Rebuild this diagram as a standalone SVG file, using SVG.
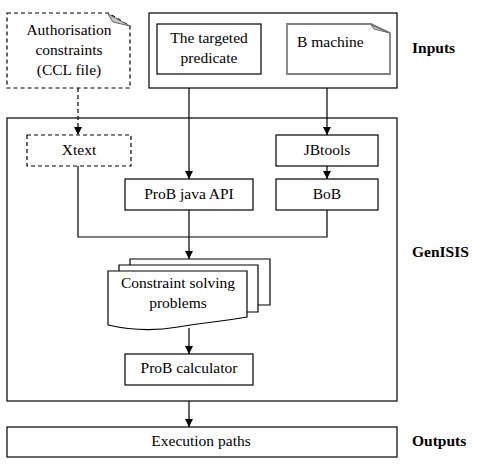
<svg xmlns="http://www.w3.org/2000/svg" width="479" height="469" viewBox="0 0 479 469">
<style>
.box{fill:#fff;stroke:#000;stroke-width:1.2}
.dash{fill:#fff;stroke:#000;stroke-width:1.2;stroke-dasharray:4,3}
.t{font-family:"Liberation Serif","Times New Roman",serif;font-size:15.5px;fill:#000;text-anchor:middle}
.b{font-family:"Liberation Serif","Times New Roman",serif;font-size:15.5px;font-weight:bold;fill:#000}
.ln{fill:none;stroke:#000;stroke-width:1.2}
.fold{fill:#c8c8c8;stroke:#666;stroke-width:1}
</style>
<defs>
<marker id="ah" markerUnits="userSpaceOnUse" markerWidth="9" markerHeight="9" refX="8" refY="4" orient="auto">
<path d="M0,0 L8,4 L0,8 z" fill="#000"/>
</marker>
</defs>
<rect width="479" height="469" fill="#fff"/>

<g id="genisis-frame">
<rect class="box" x="7" y="118" width="390" height="283"/>
<text class="b" x="412" y="257">GenISIS</text>
</g>

<g id="inputs">
<rect class="box" x="149" y="13" width="248" height="75"/>
<text class="b" x="412" y="53">Inputs</text>
</g>

<g id="auth">
<path class="dash" d="M7,13 H108 L130,26 V88 H7 Z"/>
<path class="fold" d="M108,14 L130,26 L113,22 Z"/>
<text class="t" x="69" y="35">Authorisation</text>
<text class="t" x="69" y="55">constraints</text>
<text class="t" x="69" y="75">(CCL file)</text>
</g>

<g id="predicate">
<rect class="box" x="157" y="24" width="104" height="50"/>
<text class="t" x="209" y="43">The targeted</text>
<text class="t" x="209" y="63">predicate</text>
</g>

<g id="bmachine">
<path d="M287,24 H371 L390,33 V74 H287 Z" fill="#fff" stroke="#808080" stroke-width="1.8"/>
<path class="fold" d="M371,25 L390,33 L374,29 Z"/>
<text class="t" x="297" y="47" style="text-anchor:start">B machine</text>
</g>

<g id="xtext">
<rect class="dash" x="27" y="135" width="104" height="31"/>
<text class="t" x="79" y="155">Xtext</text>
</g>

<g id="jbtools">
<rect class="box" x="276" y="135" width="102" height="31"/>
<text class="t" x="327" y="155">JBtools</text>
</g>

<g id="probapi">
<rect class="box" x="125" y="179" width="128" height="31"/>
<text class="t" x="189" y="199">ProB java API</text>
</g>

<g id="bob">
<rect class="box" x="276" y="179" width="102" height="31"/>
<text class="t" x="327" y="199">BoB</text>
</g>

<g id="csp">
<path class="box" d="M130,265 V259 H270 V305 H258"/>
<path class="box" d="M119,271 V265 H258 V312 H247"/>
<path class="box" d="M108,271 H247 V317 Q230,320 213,322 T178,327 Q143,333 108,325 Z"/>
<text class="t" x="178" y="288">Constraint solving</text>
<text class="t" x="178" y="308">problems</text>
</g>

<g id="calculator">
<rect class="box" x="125" y="354" width="128" height="31"/>
<text class="t" x="189" y="373">ProB calculator</text>
</g>

<g id="outputs">
<rect class="box" x="7" y="427" width="390" height="30"/>
<text class="t" x="201" y="446">Execution paths</text>
<text class="b" x="412" y="446">Outputs</text>
</g>

<g id="connectors">
<line class="ln" x1="78" y1="88" x2="78" y2="135" stroke-dasharray="4,3" marker-end="url(#ah)"/>
<line class="ln" x1="189" y1="88" x2="189" y2="179" marker-end="url(#ah)"/>
<line class="ln" x1="327" y1="88" x2="327" y2="135" marker-end="url(#ah)"/>
<line class="ln" x1="327" y1="166" x2="327" y2="179" marker-end="url(#ah)"/>
<polyline class="ln" points="78,166 78,237 327,237 327,210"/>
<line class="ln" x1="189" y1="210" x2="189" y2="259" marker-end="url(#ah)"/>
<line class="ln" x1="189" y1="328" x2="189" y2="354" marker-end="url(#ah)"/>
<line class="ln" x1="189" y1="401" x2="189" y2="427" marker-end="url(#ah)"/>
</g>
</svg>
